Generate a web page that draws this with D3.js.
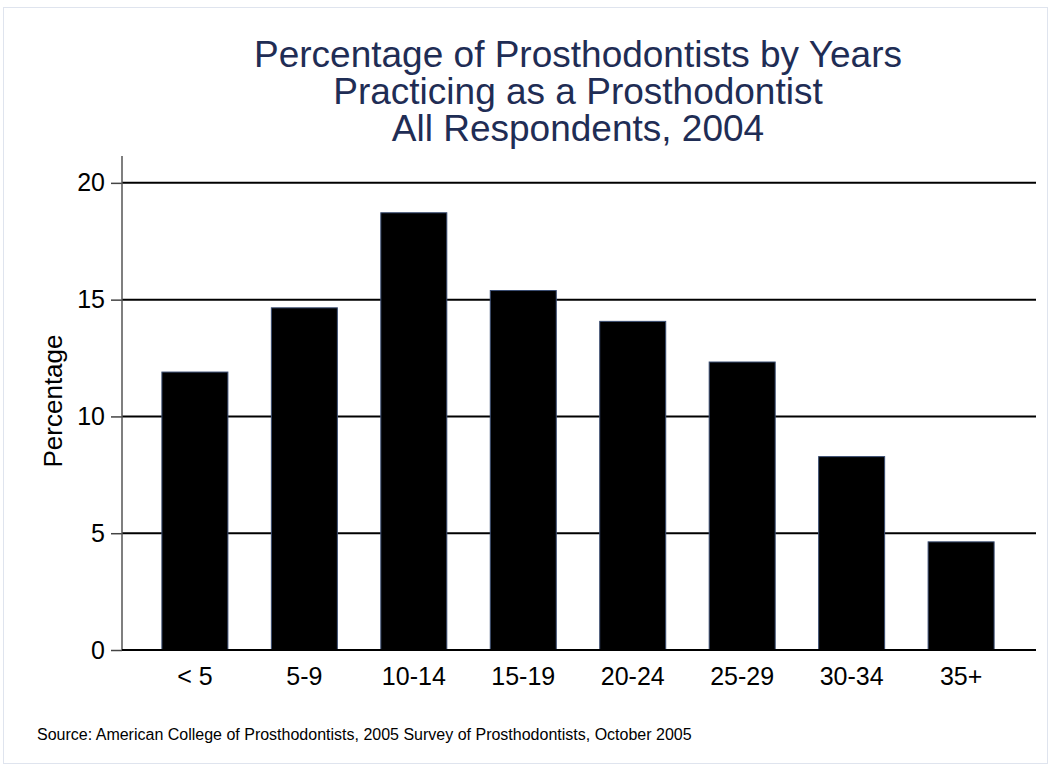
<!DOCTYPE html>
<html>
<head>
<meta charset="utf-8">
<script src="https://cdn.jsdelivr.net/npm/d3@7"></script>
<style>
  html, body { margin: 0; padding: 0; background: #fff; }
  svg { display: block; }
  text { font-family: "Liberation Sans", Arial, sans-serif; }
</style>
</head>
<body>
<svg id="chart" width="1051" height="772"></svg>
<script>
const categories = ["< 5", "5-9", "10-14", "15-19", "20-24", "25-29", "30-34", "35+"];
const values = [11.9, 14.65, 18.72, 15.39, 14.07, 12.33, 8.28, 4.63];
const yTicks = [0, 5, 10, 15, 20];
const titleLines = ["Percentage of Prosthodontists by Years", "Practicing as a Prosthodontist", "All Respondents, 2004"];
const yLabel = "Percentage";
const sourceText = "Source: American College of Prosthodontists, 2005 Survey of Prosthodontists, October 2005";

const svg = d3.select("#chart");

// outer frame
svg.append("rect").attr("x", 3.5).attr("y", 7.5).attr("width", 1044).attr("height", 756)
  .attr("fill", "#fff").attr("stroke", "#dfe4ee").attr("stroke-width", 1);

const plotLeft = 122, plotRight = 1036, plotTop = 156, plotBottom = 650;

const y = d3.scaleLinear().domain([0, 21.15]).range([plotBottom, plotTop]);
const x = d3.scaleBand().domain(categories).range([140, 1016]).paddingInner(0.397).paddingOuter(0.2);

// gridlines
svg.append("g").selectAll("line").data(yTicks).join("line")
  .attr("x1", plotLeft).attr("x2", plotRight)
  .attr("y1", d => y(d)).attr("y2", d => y(d))
  .attr("stroke", "#000").attr("stroke-width", 2);

// y axis
const yAxis = d3.axisLeft(y).tickValues(yTicks).tickSize(11).tickPadding(6).tickFormat(d3.format("d"));
const gy = svg.append("g").attr("transform", `translate(${plotLeft},0)`).call(yAxis);
gy.select(".domain").remove();
gy.selectAll(".tick line").attr("stroke", "#444").attr("stroke-width", 1.5);
gy.selectAll(".tick text").attr("font-size", 25).attr("fill", "#000")
  .attr("font-family", "'Liberation Sans', Arial, sans-serif");
svg.append("line").attr("x1", plotLeft).attr("x2", plotLeft).attr("y1", plotTop).attr("y2", plotBottom)
  .attr("stroke", "#555").attr("stroke-width", 1.5);

// bars
svg.append("g").selectAll("rect").data(values).join("rect")
  .attr("x", (d, i) => x(categories[i]))
  .attr("width", x.bandwidth())
  .attr("y", d => y(d))
  .attr("height", d => y(0) - y(d))
  .attr("fill", "#000").attr("stroke", "#3a4d72").attr("stroke-width", 1);

// baseline
svg.append("line").attr("x1", plotLeft).attr("x2", plotRight).attr("y1", y(0)).attr("y2", y(0))
  .attr("stroke", "#000").attr("stroke-width", 2);

// x axis labels
const xAxis = d3.axisBottom(x).tickSize(0).tickPadding(17);
const gx = svg.append("g").attr("transform", `translate(0,${plotBottom})`).call(xAxis);
gx.select(".domain").remove();
gx.selectAll(".tick text").attr("font-size", 25).attr("fill", "#000")
  .attr("font-family", "'Liberation Sans', Arial, sans-serif");

// title
svg.append("text").attr("x", 578).attr("y", 67).attr("text-anchor", "middle")
  .attr("font-size", 37).attr("fill", "#1f2d55")
  .selectAll("tspan").data(titleLines).join("tspan")
  .attr("x", 578).attr("dy", (d, i) => i === 0 ? 0 : 37).text(d => d);

// y label
svg.append("text").attr("transform", `translate(62,401) rotate(-90)`)
  .attr("text-anchor", "middle").attr("font-size", 26).attr("fill", "#000").text(yLabel);

// source
svg.append("text").attr("x", 37).attr("y", 740).attr("font-size", 16).attr("fill", "#000").text(sourceText);
</script>
</body>
</html>
